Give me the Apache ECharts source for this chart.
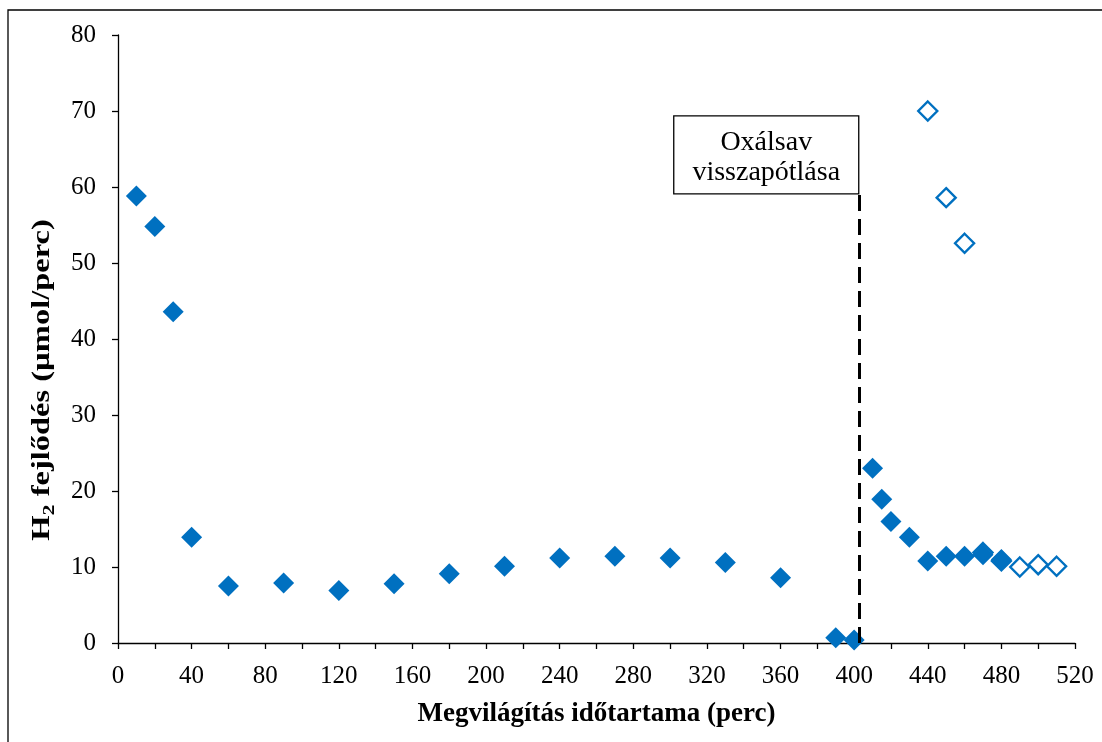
<!DOCTYPE html>
<html>
<head>
<meta charset="utf-8">
<script src="https://cdn.jsdelivr.net/npm/echarts@6/dist/echarts.min.js"></script>
<style>html,body{margin:0;padding:0;background:#fff}#c{width:1102px;height:742px}</style>
</head>
<body>
<div id="c"></div>
<script>
// Filled diamonds
const filledX = [10,20,30,40,60,90,120,150,180,210,240,270,300,330,360,390,400,410,415,420,430,440,450,460,470,480];
const filledY = [58.8,54.8,43.6,13.9,7.5,7.9,6.9,7.8,9.1,10.1,11.2,11.4,11.2,10.6,8.6,0.7,0.4,23.0,18.9,16.0,13.9,10.8,11.4,11.4,11.6,11.0];
// Hollow diamonds
const hollowX = [440,450,460,470,480,490,500,510];
const hollowY = [70.0,58.6,52.6,11.9,10.8,10.0,10.3,10.1];
// Annotation (replenishment of oxalic acid)
const annotX = 402.5;
const annotTopY = 59.1;
const annotText = ['Oxálsav', 'visszapótlása'];
const xTicks = {min: 0, max: 520, interval: 40};
const yTicks = {min: 0, max: 80, interval: 10};

const FONT = '"Liberation Serif","Times New Roman",serif';
const BLUE = '#0070C0';

const chart = echarts.init(document.getElementById('c'), null, {renderer: 'canvas'});
const option = {
  animation: false,
  backgroundColor: '#fff',
  grid: {left: 118, right: 27, top: 35, bottom: 99, containLabel: false},
  xAxis: {
    type: 'value', min: xTicks.min, max: xTicks.max, interval: xTicks.interval,
    name: 'Megvilágítás időtartama (perc)', nameLocation: 'middle', nameGap: 58,
    nameTextStyle: {fontFamily: FONT, fontSize: 27, fontWeight: 'bold', color: '#000'},
    axisLine: {onZero: false, lineStyle: {color: '#000', width: 1.3}},
    axisTick: {show: true, inside: false, length: 6, lineStyle: {color: '#000', width: 1.3}},
    minorTick: {show: true, splitNumber: 2, length: 6, lineStyle: {color: '#000', width: 1.3}},
    axisLabel: {fontFamily: FONT, fontSize: 25, color: '#000', margin: 21},
    splitLine: {show: false}
  },
  yAxis: {
    type: 'value', min: yTicks.min, max: yTicks.max, interval: yTicks.interval,
    axisLine: {show: true, lineStyle: {color: '#000', width: 1.3}},
    axisTick: {show: true, inside: false, length: 6, lineStyle: {color: '#000', width: 1.3}},
    axisLabel: {fontFamily: FONT, fontSize: 25, color: '#000', margin: 22},
    splitLine: {show: false}
  },
  series: [
    {
      type: 'scatter', name: 'filled', symbol: 'diamond', symbolSize: 21,
      data: filledX.map((x, i) => [x, filledY[i]]),
      itemStyle: {color: BLUE, opacity: 1},
      z: 3,
      markLine: {
        silent: true, symbol: 'none', animation: false,
        label: {show: false},
        lineStyle: {color: '#000', type: [16, 8], width: 3},
        data: [[{coord: [annotX, 0]}, {coord: [annotX, annotTopY]}]]
      }
    },
    {
      type: 'scatter', name: 'hollow', symbol: 'diamond', symbolSize: 19,
      data: hollowX.map((x, i) => [x, hollowY[i]]),
      itemStyle: {color: 'rgba(255,255,255,0)', borderColor: BLUE, borderWidth: 2.4, opacity: 1},
      z: 4
    }
  ]
};
chart.setOption(option);

function drawGraphics() {
  const br = chart.convertToPixel({gridIndex: 0}, [annotX, annotTopY]);
  const boxW = 185, boxH = 78;
  chart.setOption({
    graphic: [
      {type: 'rect', silent: true, z: 0, shape: {x: 8, y: 10, width: 1200, height: 800},
       style: {fill: 'none', stroke: '#000', lineWidth: 1.3}},
      {type: 'rect', silent: true, z: 10, shape: {x: br[0] - boxW, y: br[1] - boxH, width: boxW, height: boxH},
       style: {fill: '#fff', stroke: '#000', lineWidth: 1.3}},
      {type: 'text', silent: true, z: 11, x: br[0] - boxW / 2, y: br[1] - boxH / 2 + 3,
       style: {text: annotText.join('\n'), font: '28px ' + FONT, fill: '#000', align: 'center', verticalAlign: 'middle', lineHeight: 30}},
      {type: 'text', silent: true, z: 11, x: 43, y: 380, rotation: Math.PI / 2, scaleX: 1.3, scaleY: 1,
       style: {
         text: '{b|H}{s|2}{b| fejlődés (µmol/perc)}',
         align: 'center', verticalAlign: 'middle',
         rich: {
           b: {fontFamily: FONT, fontSize: 25, fontWeight: 'bold', fill: '#000', color: '#000', verticalAlign: 'middle'},
           s: {fontFamily: FONT, fontSize: 17, fontWeight: 'bold', fill: '#000', color: '#000', padding: [14, 0, 0, 0]}
         }
       }}
    ]
  });
}
drawGraphics();
</script>
</body>
</html>
